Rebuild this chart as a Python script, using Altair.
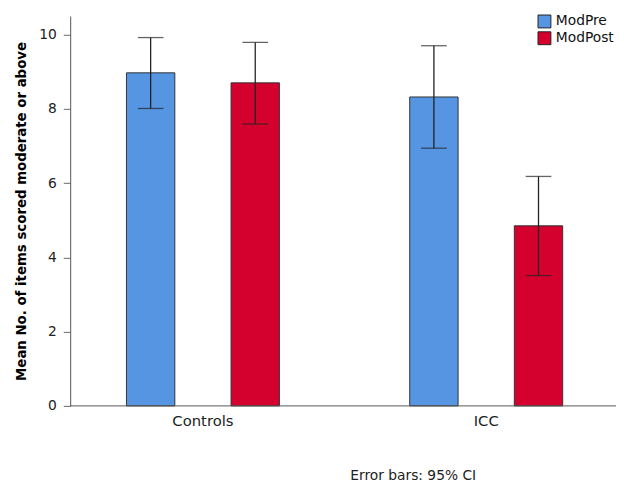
import altair as alt
import pandas as pd

groups = ["Controls", "Controls", "ICC", "ICC"]
series = ["ModPre", "ModPost", "ModPre", "ModPost"]
means = [8.97, 8.70, 8.32, 4.85]
ci_low = [8.01, 7.59, 6.94, 3.51]
ci_high = [9.92, 9.79, 9.70, 6.18]
y_ticks = [0, 1, 2, 3, 4, 5, 6, 7, 8, 9, 10]

df = pd.DataFrame({"group": groups, "series": series, "mean": means,
                   "lo": ci_low, "hi": ci_high})

W, H = 553, 395
FONT = "DejaVu Sans"

x = alt.X("group:N", sort=["Controls", "ICC"],
          scale=alt.Scale(range=[-9, 565], paddingInner=0, paddingOuter=0),
          axis=alt.Axis(title=None, domain=False, ticks=False, labelAngle=0,
                        labelFontSize=15, labelColor="#222", labelPadding=8,
                        labelFont=FONT))
xo = alt.XOffset("series:N", sort=["ModPre", "ModPost"],
                 scale=alt.Scale(paddingInner=0.5377, paddingOuter=0.623))
yscale = alt.Scale(domain=[0, 10.5], nice=False)

bars = alt.Chart(df).mark_bar(stroke="#333", strokeWidth=1).encode(
    x=x, xOffset=xo,
    y=alt.Y("mean:Q", scale=yscale,
            axis=alt.Axis(title="Mean No. of items scored moderate or above",
                          values=y_ticks,
                          labelExpr="datum.value % 2 == 0 ? datum.label : ''",
                          grid=False, tickSize=7, tickColor="#666",
                          domainColor="#555", labelFontSize=14,
                          labelColor="#222", labelPadding=7, labelFont=FONT,
                          titleFont=FONT, titleFontSize=13.5, titleFontWeight="bold",
                          titleColor="#000", titlePadding=10)),
    color=alt.Color("series:N", sort=["ModPre", "ModPost"],
                    scale=alt.Scale(domain=["ModPre", "ModPost"],
                                    range=["#5595E2", "#D4002E"]),
                    legend=alt.Legend(title=None, orient="none", legendX=473,
                                      legendY=-2, symbolType="square",
                                      symbolSize=170, symbolStrokeColor="#222",
                                      symbolStrokeWidth=1, labelFontSize=14,
                                      labelFont=FONT, labelColor="#111",
                                      rowPadding=-4, labelOffset=4,
                                      symbolOpacity=1)),
)

rules = alt.Chart(df).mark_rule(color="#222", strokeWidth=1.3).encode(
    x=x, xOffset=xo, y=alt.Y("lo:Q", scale=yscale), y2="hi:Q")
cap_lo = alt.Chart(df).mark_tick(color="#222", thickness=1.3, size=26,
                                 orient="horizontal").encode(
    x=x, xOffset=xo, y=alt.Y("lo:Q", scale=yscale))
cap_hi = alt.Chart(df).mark_tick(color="#222", thickness=1.3, size=26,
                                 orient="horizontal").encode(
    x=x, xOffset=xo, y=alt.Y("hi:Q", scale=yscale))

baseline = alt.Chart(pd.DataFrame({"v": [0]})).mark_rule(color="#555").encode(
    y=alt.Y("v:Q", scale=yscale), x=alt.value(0), x2=alt.value(W))

chart = alt.layer(bars, rules, cap_lo, cap_hi, baseline).properties(
    width=W, height=H,
    autosize=alt.AutoSizeParams(type="none"),
    padding={"left": 63, "top": 5, "right": 0, "bottom": 76},
    title=alt.TitleParams("Error bars: 95% CI", orient="bottom", anchor="middle",
                          dx=71, offset=41, fontSize=14, fontWeight="normal",
                          font=FONT, color="#222"),
).configure_view(stroke=None)

chart.save("out.html", embed_options={"renderer": "svg", "actions": False})
